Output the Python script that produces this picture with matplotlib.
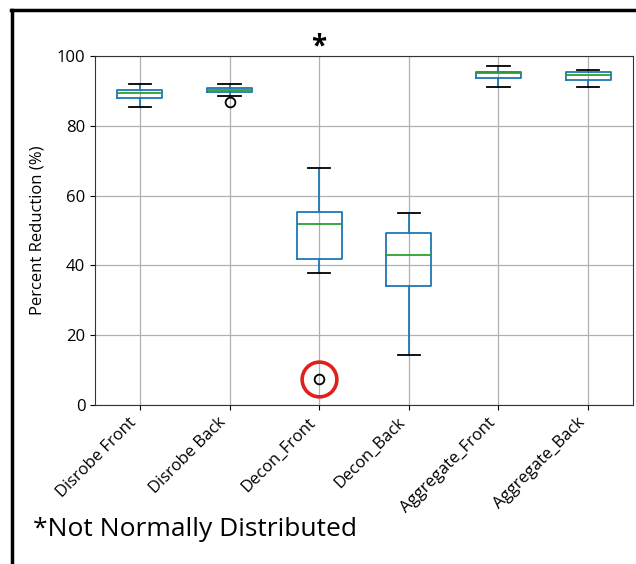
import matplotlib
matplotlib.use("Agg")
import matplotlib.pyplot as plt
from matplotlib.lines import Line2D

plt.rcParams['font.family'] = ['Open Sans', 'DejaVu Sans']

categories = ["Disrobe Front", "Disrobe Back", "Decon_Front",
              "Decon_Back", "Aggregate_Front", "Aggregate_Back"]
whisker_low = [85.3, 88.6, 37.8, 14.4, 91.0, 91.0]
q1 = [88.0, 89.6, 41.7, 34.2, 93.6, 93.2]
median = [89.4, 90.2, 51.8, 42.9, 95.1, 94.5]
q3 = [90.3, 90.8, 55.4, 49.3, 95.5, 95.5]
whisker_high = [92.0, 92.0, 67.8, 54.9, 97.0, 96.0]
outliers = [[], [86.9], [7.4], [], [], []]
yticks = [0, 20, 40, 60, 80, 100]

fig = plt.figure(figsize=(6.36, 5.64), dpi=100)
ax = fig.add_axes([95 / 636, 1 - 405 / 564, 538 / 636, 349 / 564])

stats = []
for i, name in enumerate(categories):
    stats.append(dict(label=name, whislo=whisker_low[i], q1=q1[i], med=median[i],
                      q3=q3[i], whishi=whisker_high[i], fliers=outliers[i]))

ax.bxp(stats, positions=range(1, len(categories) + 1), widths=0.5,
       boxprops=dict(color="#1f77b4", linewidth=1.3),
       whiskerprops=dict(color="#1f77b4", linewidth=1.3),
       medianprops=dict(color="#2ca02c", linewidth=1.3),
       capprops=dict(color="black", linewidth=1.3),
       flierprops=dict(marker="o", markerfacecolor="none",
                       markeredgecolor="black", markersize=7, markeredgewidth=1.3))

ax.set_xlim(0.5, 6.5)
ax.set_ylim(0, 100)
ax.set_yticks(yticks)
ax.grid(True, color="#b0b0b0", linewidth=0.9)
ax.set_axisbelow(True)
ax.set_xticks(range(1, len(categories) + 1))
ax.set_xticklabels(categories, rotation=45, ha="right", fontsize=12)
ax.tick_params(axis="y", labelsize=12)
ax.set_ylabel("Percent Reduction (%)", fontsize=12, labelpad=8)
for s in ax.spines.values():
    s.set_color("#333333")

# highlight the low outlier of Decon_Front
ax.plot([3], [outliers[2][0]], marker="o", markersize=25, markerfacecolor="none",
        markeredgecolor="#e0201c", markeredgewidth=2.6, clip_on=False)

# significance marker above Decon_Front
ax.annotate("*", xy=(3, 100), xytext=(0, 1), textcoords="offset points",
            ha="center", va="baseline", fontsize=20, fontweight="bold")

fig.text(33 / 636, 1 - 530 / 564, "*Not Normally Distributed", fontsize=19,
         ha="left", va="center")

# frame lines along the top and left edges
fig.add_artist(Line2D([11 / 636, 1.0], [1 - 10 / 564, 1 - 10 / 564],
                      transform=fig.transFigure, color="black", linewidth=2.5))
fig.add_artist(Line2D([12 / 636, 12 / 636], [0.0, 1 - 10 / 564],
                      transform=fig.transFigure, color="black", linewidth=2.5))

fig.savefig("out.png", dpi=100)
